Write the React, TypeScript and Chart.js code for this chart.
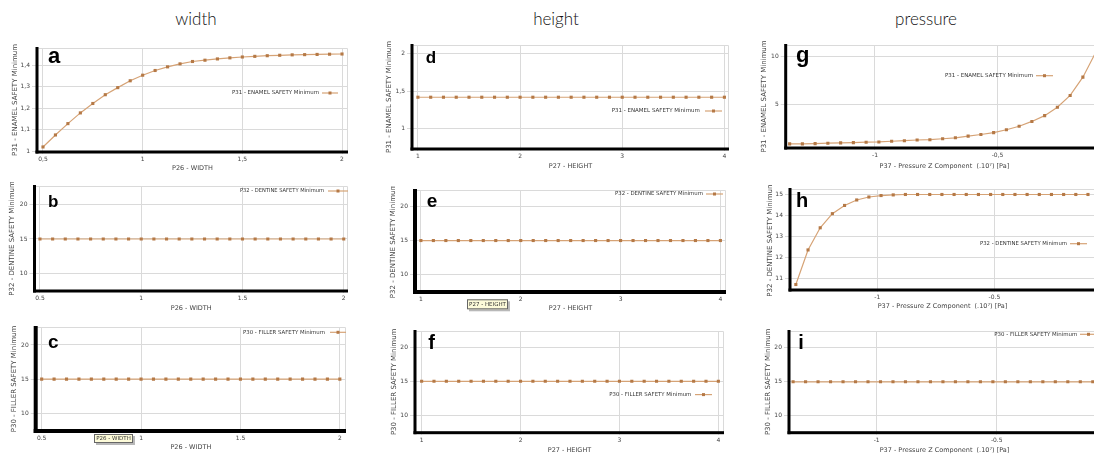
import React, { useEffect, useRef } from "react";
import { Chart, registerables } from "chart.js";
Chart.register(...registerables);

// ---------- data ----------
const widthX = [0.5, 0.5625, 0.625, 0.6875, 0.75, 0.8125, 0.875, 0.9375, 1, 1.0625, 1.125, 1.1875, 1.25, 1.3125, 1.375, 1.4375, 1.5, 1.5625, 1.625, 1.6875, 1.75, 1.8125, 1.875, 1.9375, 2];
const heightX = [1, 1.125, 1.25, 1.375, 1.5, 1.625, 1.75, 1.875, 2, 2.125, 2.25, 2.375, 2.5, 2.625, 2.75, 2.875, 3, 3.125, 3.25, 3.375, 3.5, 3.625, 3.75, 3.875, 4];
const pressureX = [-1.348, -1.296, -1.244, -1.192, -1.14, -1.088, -1.036, -0.984, -0.932, -0.88, -0.828, -0.776, -0.724, -0.672, -0.62, -0.568, -0.516, -0.464, -0.412, -0.36, -0.308, -0.256, -0.204, -0.152, -0.1];

const enamelByWidth = [1.019, 1.075, 1.128, 1.178, 1.222, 1.263, 1.296, 1.328, 1.354, 1.376, 1.393, 1.407, 1.418, 1.424, 1.43, 1.435, 1.439, 1.442, 1.445, 1.447, 1.449, 1.45, 1.451, 1.452, 1.453];
const dentineByWidth = [15, 15, 15, 15, 15, 15, 15, 15, 15, 15, 15, 15, 15, 15, 15, 15, 15, 15, 15, 15, 15, 15, 15, 15, 15];
const fillerByWidth = [15, 15, 15, 15, 15, 15, 15, 15, 15, 15, 15, 15, 15, 15, 15, 15, 15, 15, 15, 15, 15, 15, 15, 15, 15];
const enamelByHeight = [1.42, 1.42, 1.42, 1.42, 1.42, 1.42, 1.42, 1.42, 1.42, 1.42, 1.42, 1.42, 1.42, 1.42, 1.42, 1.42, 1.42, 1.42, 1.42, 1.42, 1.42, 1.42, 1.42, 1.42, 1.42];
const dentineByHeight = [15, 15, 15, 15, 15, 15, 15, 15, 15, 15, 15, 15, 15, 15, 15, 15, 15, 15, 15, 15, 15, 15, 15, 15, 15];
const fillerByHeight = [15, 15, 15, 15, 15, 15, 15, 15, 15, 15, 15, 15, 15, 15, 15, 15, 15, 15, 15, 15, 15, 15, 15, 15, 15];
const enamelByPressure = [0.9, 0.9, 0.93, 0.97, 1.0, 1.03, 1.07, 1.1, 1.17, 1.23, 1.3, 1.33, 1.43, 1.53, 1.7, 1.87, 2.07, 2.37, 2.73, 3.23, 3.83, 4.7, 5.93, 7.83, 10.4];
const dentineByPressure = [10.73, 12.37, 13.42, 14.09, 14.48, 14.74, 14.88, 14.95, 14.98, 15, 15, 15, 15, 15, 15, 15, 15, 15, 15, 15, 15, 15, 15, 15, 15];
const fillerByPressure = [15, 15, 15, 15, 15, 15, 15, 15, 15, 15, 15, 15, 15, 15, 15, 15, 15, 15, 15, 15, 15, 15, 15, 15, 15];

const widthTicks = [0.5, 1, 1.5, 2];
const heightTicks = [1, 2, 3, 4];
const pressureTicks = [-1, -0.5];
const enamelWidthTicks = [1, 1.1, 1.2, 1.3, 1.4];
const enamelHeightTicks = [1, 1.5, 2];
const enamelPressureTicks = [5, 10];
const safetyTicks = [10, 15, 20];
const dentinePressureTicks = [11, 12, 13, 14, 15];

const columnTitles = ["width", "height", "pressure"];
const xTitles = ["P26 - WIDTH", "P27 - HEIGHT", "P37 - Pressure Z Component  (.10\u2077) [Pa]"];
const seriesNames = ["P31 - ENAMEL SAFETY Minimum", "P32 - DENTINE SAFETY Minimum", "P30 - FILLER SAFETY Minimum"];

// ---------- styles ----------
const FONT = '"DejaVu Sans", sans-serif';
const LINE_COLOR = "rgb(214,163,118)";
const POINT_COLOR = "rgb(181,121,70)";
const GRID = "#dadada";
const TEXT = "#444";

type Panel = {
  letter: string; letterSize: number; letterX: number; letterY: number;
  xs: number[]; ys: number[]; xTicks: number[]; yTicks: number[];
  xMin: number; xMax: number; yMin: number; yMax: number;
  cx: number; L: number; T: number; R: number; B: number; bottom: number;
  xTitle: string; yTitle: string; xTitleY: number; yTitleX: number;
  legend: { x: number; y: number; w: number; l1: number; l2: number };
  comma: boolean; axisW: number;
  tip?: { text: string; x: number; y: number; w: number; h: number };
};

const panels: Panel[] = [
  { letter: "a", letterSize: 22, letterX: 48, letterY: 63.3, xs: widthX, ys: enamelByWidth, xTicks: widthTicks, yTicks: enamelWidthTicks,
    xMin: 0.47, xMax: 2.03, yMin: 0.9955, yMax: 1.481, cx: 0, L: 37, T: 44, R: 352, B: 152, bottom: 173,
    xTitle: xTitles[0], yTitle: seriesNames[0], xTitleY: 168, yTitleX: 15,
    legend: { x: 232, y: 93, w: 87, l1: 322, l2: 338 }, comma: true, axisW: 3 },
  { letter: "b", letterSize: 17, letterX: 48, letterY: 206.7, xs: widthX, ys: dentineByWidth, xTicks: widthTicks, yTicks: safetyTicks,
    xMin: 0.473, xMax: 2.021, yMin: 7.5, yMax: 22.64, cx: 0, L: 34.5, T: 182, R: 352, B: 291, bottom: 313,
    xTitle: xTitles[0], yTitle: seriesNames[1], xTitleY: 308, yTitleX: 11.7,
    legend: { x: 240, y: 191, w: 84, l1: 328, l2: 348 }, comma: false, axisW: 3 },
  { letter: "c", letterSize: 19, letterX: 48, letterY: 348.3, xs: widthX, ys: fillerByWidth, xTicks: widthTicks, yTicks: safetyTicks,
    xMin: 0.47, xMax: 2.031, yMin: 7.42, yMax: 22.63, cx: 0, L: 35.7, T: 323, R: 350, B: 431, bottom: 453,
    xTitle: xTitles[0], yTitle: seriesNames[2], xTitleY: 447.7, yTitleX: 14.3,
    legend: { x: 243, y: 332.3, w: 82, l1: 330, l2: 346 }, comma: false, axisW: 4,
    tip: { text: "P26 - WIDTH", x: 94, y: 434, w: 39, h: 9 } },
  { letter: "d", letterSize: 17, letterX: 425.7, letterY: 63.3, xs: heightX, ys: enamelByHeight, xTicks: heightTicks, yTicks: enamelHeightTicks,
    xMin: 0.942, xMax: 4.045, yMin: 0.731, yMax: 2.115, cx: 370, L: 412, T: 41, R: 733, B: 149, bottom: 172,
    xTitle: xTitles[1], yTitle: seriesNames[0], xTitleY: 166.7, yTitleX: 389,
    legend: { x: 611.7, y: 111, w: 90, l1: 705, l2: 722 }, comma: true, axisW: 3 },
  { letter: "e", letterSize: 19, letterX: 426.7, letterY: 206.7, xs: heightX, ys: dentineByHeight, xTicks: heightTicks, yTicks: safetyTicks,
    xMin: 0.941, xMax: 4.056, yMin: 7.41, yMax: 22.45, cx: 370, L: 415, T: 185.7, R: 730, B: 292, bottom: 314,
    xTitle: xTitles[1], yTitle: seriesNames[1], xTitleY: 308.3, yTitleX: 393.3,
    legend: { x: 615, y: 193.7, w: 88, l1: 706, l2: 723 }, comma: false, axisW: 4,
    tip: { text: "P27 - HEIGHT", x: 467, y: 299, w: 41, h: 10 } },
  { letter: "f", letterSize: 20, letterX: 428.3, letterY: 348.3, xs: heightX, ys: fillerByHeight, xTicks: heightTicks, yTicks: safetyTicks,
    xMin: 0.933, xMax: 4.057, yMin: 7.38, yMax: 22.46, cx: 370, L: 415, T: 326.7, R: 728, B: 432.7, bottom: 455,
    xTitle: xTitles[1], yTitle: seriesNames[2], xTitleY: 450, yTitleX: 394,
    legend: { x: 609.3, y: 394.3, w: 82, l1: 695, l2: 712 }, comma: false, axisW: 3 },
  { letter: "g", letterSize: 22, letterX: 796, letterY: 61.7, xs: pressureX, ys: enamelByPressure, xTicks: pressureTicks, yTicks: enamelPressureTicks,
    xMin: -1.364, xMax: -0.07, yMin: 0.47, yMax: 11.17, cx: 740, L: 785.7, T: 41, R: 1106.6, B: 148, bottom: 171,
    xTitle: xTitles[2], yTitle: seriesNames[0], xTitleY: 166, yTitleX: 764,
    legend: { x: 945, y: 75.7, w: 88, l1: 1036, l2: 1053 }, comma: true, axisW: 3 },
  { letter: "h", letterSize: 20, letterX: 796, letterY: 206.7, xs: pressureX, ys: dentineByPressure, xTicks: pressureTicks, yTicks: dentinePressureTicks,
    xMin: -1.373, xMax: -0.07, yMin: 10.47, yMax: 15.26, cx: 740, L: 790, T: 185, R: 1098.5, B: 290, bottom: 312,
    xTitle: xTitles[2], yTitle: seriesNames[1], xTitleY: 306.7, yTitleX: 770,
    legend: { x: 980, y: 243.7, w: 87, l1: 1070, l2: 1087 }, comma: false, axisW: 3 },
  { letter: "i", letterSize: 20, letterX: 798.3, letterY: 348.3, xs: pressureX, ys: fillerByPressure, xTicks: pressureTicks, yTicks: safetyTicks,
    xMin: -1.365, xMax: -0.07, yMin: 7.5, yMax: 22.49, cx: 740, L: 789, T: 326.7, R: 1103.9, B: 432.7, bottom: 455,
    xTitle: xTitles[2], yTitle: seriesNames[2], xTitleY: 450, yTitleX: 768.3,
    legend: { x: 994.3, y: 334, w: 83, l1: 1080, l2: 1097 }, comma: false, axisW: 3 },
];

const fmt = (v: number, comma: boolean) => {
  const s = String(v);
  return comma ? s.replace(".", ",") : s;
};

const TICK_SIZE = 6;
const XT_SIZE = 6.5;
const YT_SIZE = 7;

function PanelChart({ p }: { p: Panel }) {
  const ref = useRef<HTMLCanvasElement | null>(null);
  const cw = Math.round(p.R - p.cx);
  const ch = Math.round(p.bottom - p.T);
  useEffect(() => {
    if (!ref.current) return;
    const ox = p.cx, oy = p.T;
    const deco = {
      id: "deco",
      beforeDatasetsDraw(chart: any) {
        const { ctx, chartArea: a } = chart;
        ctx.save();
        ctx.strokeStyle = GRID;
        ctx.lineWidth = 1;
        ctx.beginPath();
        ctx.moveTo(a.left, a.top + 0.5);
        ctx.lineTo(a.right - 0.5, a.top + 0.5);
        ctx.lineTo(a.right - 0.5, a.bottom);
        ctx.stroke();
        ctx.restore();
      },
      afterDraw(chart: any) {
        const ctx = chart.ctx;
        const a = chart.chartArea;
        ctx.save();
        // thick black axis lines (left and bottom)
        const w = p.axisW;
        ctx.fillStyle = "#000";
        ctx.fillRect(a.left - w / 2, a.top - 1, w, a.bottom - a.top + w / 2 + 1);
        ctx.fillRect(a.left - w / 2, a.bottom - w / 2, a.right - a.left + w / 2, w);
        // panel letter
        ctx.fillStyle = "#000";
        ctx.font = `bold ${p.letterSize}px "Liberation Sans", Arial, sans-serif`;
        ctx.textAlign = "left";
        ctx.textBaseline = "alphabetic";
        ctx.fillText(p.letter, p.letterX - ox, p.letterY - oy);
        // legend
        const lg = p.legend;
        ctx.font = `5.5px ${FONT}`;
        ctx.fillStyle = "#333";
        ctx.textBaseline = "middle";
        ctx.fillText(p.yTitle, lg.x - ox, lg.y - oy, lg.w);
        ctx.strokeStyle = LINE_COLOR;
        ctx.lineWidth = 1.2;
        ctx.beginPath();
        ctx.moveTo(lg.l1 - ox, lg.y - oy);
        ctx.lineTo(lg.l2 - ox, lg.y - oy);
        ctx.stroke();
        ctx.fillStyle = POINT_COLOR;
        const mx = (lg.l1 + lg.l2) / 2 - ox;
        ctx.fillRect(mx - 1.5, lg.y - oy - 1.5, 3, 3);
        // tooltip
        if (p.tip) {
          const t = p.tip;
          const tx = t.x - ox, ty = t.y - oy;
          ctx.fillStyle = "rgba(0,0,0,0.28)";
          ctx.fillRect(tx + 2, ty + 2, t.w, t.h);
          ctx.fillStyle = "#fdfbd9";
          ctx.fillRect(tx, ty, t.w, t.h);
          ctx.strokeStyle = "#666";
          ctx.lineWidth = 1;
          ctx.strokeRect(tx + 0.5, ty + 0.5, t.w - 1, t.h - 1);
          ctx.fillStyle = "#333";
          ctx.font = `5.5px ${FONT}`;
          ctx.textAlign = "center";
          ctx.textBaseline = "middle";
          ctx.fillText(t.text, tx + t.w / 2, ty + t.h / 2 + 0.5, t.w - 4);
        }
        ctx.restore();
      },
    };
    const chart = new Chart(ref.current, {
      type: "line",
      data: {
        datasets: [
          {
            data: p.xs.map((x, i) => ({ x, y: p.ys[i] })),
            borderColor: LINE_COLOR,
            borderWidth: 1.2,
            pointStyle: "rect",
            pointRadius: 2.2,
            pointBackgroundColor: POINT_COLOR,
            pointBorderColor: POINT_COLOR,
            pointBorderWidth: 0,
            tension: 0,
            fill: false,
          },
        ],
      },
      options: {
        animation: false,
        responsive: false,
        maintainAspectRatio: false,
        layout: { padding: 0 },
        plugins: { legend: { display: false }, tooltip: { enabled: false } },
        scales: {
          x: {
            type: "linear",
            position: "bottom",
            bounds: "data",
            min: p.xMin,
            max: p.xMax,
            afterBuildTicks: (s: any) => { s.ticks = p.xTicks.map((v) => ({ value: v })); },
            afterFit: (s: any) => { s.height = p.bottom - p.B; s.paddingLeft = 0; s.paddingRight = 0; s.paddingTop = 0; s.paddingBottom = 0; },
            ticks: { font: { family: FONT, size: TICK_SIZE }, color: TEXT, padding: 2, maxRotation: 0, autoSkip: false, callback: (v: any) => fmt(Number(v), p.comma) },
            grid: { color: GRID, lineWidth: 1, tickLength: 2 },
            border: { display: false },
            title: { display: true, text: p.xTitle, color: TEXT, font: { family: FONT, size: XT_SIZE }, padding: { top: 0, bottom: p.bottom - p.xTitleY - (XT_SIZE * 1.2) / 2 } },
          },
          y: {
            type: "linear",
            position: "left",
            bounds: "data",
            min: p.yMin,
            max: p.yMax,
            afterBuildTicks: (s: any) => { s.ticks = p.yTicks.map((v) => ({ value: v })); },
            afterFit: (s: any) => { s.width = p.L - p.cx; s.paddingLeft = 0; s.paddingRight = 0; s.paddingTop = 0; s.paddingBottom = 0; },
            ticks: { font: { family: FONT, size: TICK_SIZE }, color: TEXT, padding: 2, autoSkip: false, callback: (v: any) => fmt(Number(v), p.comma) },
            grid: { color: GRID, lineWidth: 1, tickLength: 5 },
            border: { display: false },
            title: { display: true, text: p.yTitle, color: TEXT, font: { family: FONT, size: YT_SIZE }, padding: { top: p.yTitleX - p.cx - (YT_SIZE * 1.2) / 2, bottom: 0 } },
          },
        },
      },
      plugins: [deco],
    } as any);
    return () => chart.destroy();
  }, []);
  return (
    <canvas
      ref={ref}
      width={cw}
      height={ch}
      style={{ position: "absolute", left: p.cx, top: p.T, width: cw, height: ch }}
    />
  );
}

const titleCenters = [196, 556, 926];

export default function App() {
  return (
    <div style={{ position: "absolute", left: 0, top: 0, width: 1094, height: 459, overflow: "hidden", background: "#fff" }}>
      {columnTitles.map((t, i) => (
        <div
          key={t}
          style={{
            position: "absolute",
            left: titleCenters[i],
            top: 9,
            transform: "translateX(-50%)",
            fontFamily: "Lato, 'Open Sans', sans-serif",
            fontWeight: 300,
            fontSize: 17,
            lineHeight: "20px",
            color: "#111",
            whiteSpace: "nowrap",
          }}
        >
          {t}
        </div>
      ))}
      {panels.map((p) => (
        <PanelChart key={p.letter} p={p} />
      ))}
    </div>
  );
}
